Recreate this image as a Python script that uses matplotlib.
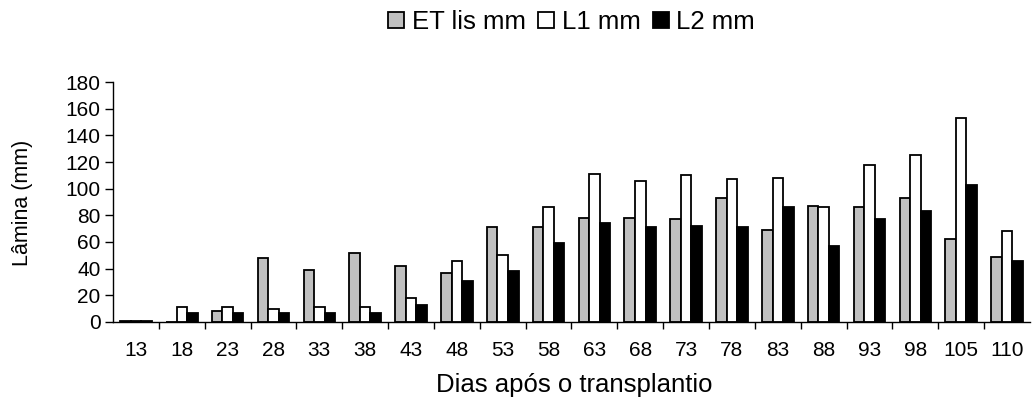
import numpy as np
import matplotlib
matplotlib.use("Agg")
import matplotlib.pyplot as plt

plt.rcParams['font.family'] = ['Liberation Sans', 'DejaVu Sans']

# Dias após o transplantio
dias = ["13", "18", "23", "28", "33", "38", "43", "48", "53", "58",
        "63", "68", "73", "78", "83", "88", "93", "98", "105", "110"]

# Lâminas (mm)
et_lis = [1, 0, 8, 48, 39, 52, 42, 37, 71, 71,
          78, 78, 77, 93, 69, 87, 86, 93, 62, 49]
l1 = [1, 11, 11, 10, 11, 11, 18, 46, 50, 86,
      111, 106, 110, 107, 108, 86, 118, 125, 153, 68]
l2 = [1, 7, 7, 7, 7, 7, 13, 31, 38, 59,
      74, 71, 72, 71, 86, 57, 77, 83, 103, 46]

x = np.arange(len(dias))
w = 0.23

fig = plt.figure(figsize=(10.34, 4.04), dpi=100)
ax = fig.add_axes([0.1093, 0.203, 0.8868, 0.594])

ax.bar(x - w, et_lis, w, color='#c0c0c0', edgecolor='black', linewidth=1.3, label='ET lis mm')
ax.bar(x, l1, w, color='white', edgecolor='black', linewidth=1.3, label='L1 mm')
ax.bar(x + w, l2, w, color='black', edgecolor='black', linewidth=1.3, label='L2 mm')

ax.set_xlim(-0.5, len(dias) - 0.5)
ax.set_ylim(0, 180)
ax.set_yticks(np.arange(0, 181, 20))

ax.set_xticks(x)
ax.set_xticklabels(dias)
ax.set_xticks(np.arange(0.5, len(dias) - 0.5, 1), minor=True)
ax.tick_params(axis='x', which='major', length=0, pad=14, labelsize=15)
ax.tick_params(axis='x', which='minor', length=5, width=1, direction='out')
ax.tick_params(axis='y', length=6, width=1, direction='out', labelsize=15, pad=3)

for s in ['top', 'right']:
    ax.spines[s].set_visible(False)
ax.spines['left'].set_linewidth(1)
ax.spines['bottom'].set_linewidth(1)

ax.set_xlabel("Dias após o transplantio", fontsize=18.5, va='center')
ax.xaxis.set_label_coords(0.503, -0.2625)
ax.set_ylabel("Lâmina (mm)", fontsize=15.5, va='center')
ax.yaxis.set_label_coords(-0.099, 0.496)

fig.legend(loc='center', bbox_to_anchor=(0.553, 0.945), ncol=3, frameon=False,
           fontsize=18.5, handlelength=0.6, handleheight=0.6, handletextpad=0.3,
           columnspacing=0.5)

fig.savefig("out.png", dpi=100)
